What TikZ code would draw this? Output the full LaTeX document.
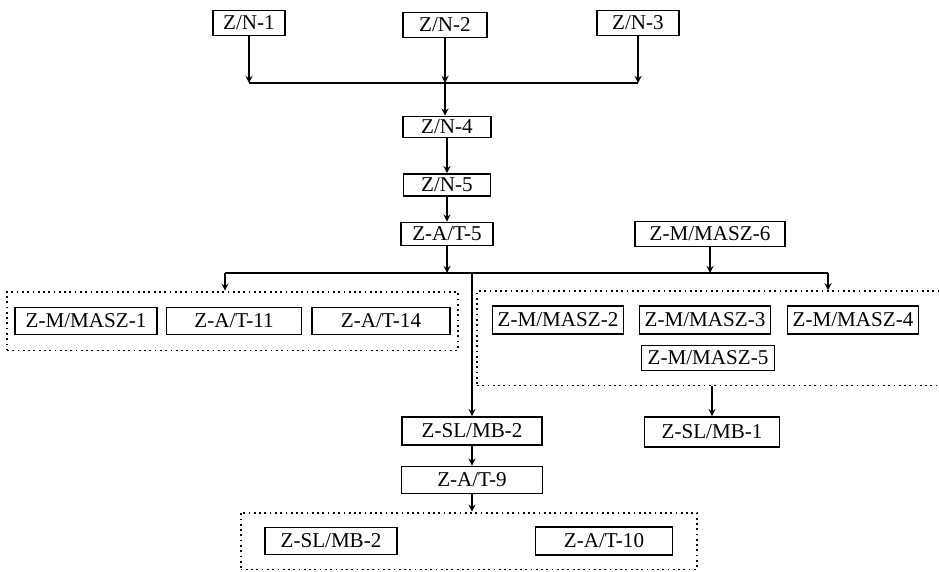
\documentclass[tikz,border=0pt]{standalone}
\usepackage{fontspec}
\setmainfont{Liberation Serif}
\usepackage{tikz}
\usetikzlibrary{positioning,fit}

\tikzset{
    box/.style={draw, line width=1pt, minimum height=0.5cm, inner xsep=3pt,
        inner ysep=1pt, font=\fontsize{12}{13}\selectfont},
    grp/.style={draw, dotted, line width=1pt, inner xsep=0.2cm, inner ysep=0.28cm}
}

\begin{document}
\begin{tikzpicture}[>=stealth, line width=0.8pt]
    \useasboundingbox (0,0) rectangle (18.78,11.42);
    \node[box, minimum width=1.44cm] (N1) at (4.98,10.96) {Z/N-1};
    \node[box, minimum width=1.68cm] (N2) at (8.9,10.92) {Z/N-2};
    \node[box, minimum width=1.64cm] (N3) at (12.76,10.96) {Z/N-3};
    \coordinate (j) at (8.9,9.76);
    \node[box, minimum width=1.76cm, minimum height=0.42cm] (N4) at (8.94,8.88) {Z/N-4};
    \node[box, minimum width=1.74cm, minimum height=0.44cm] (N5)
        [below of=N4, node distance=1.16cm] {Z/N-5};
    \node[box, minimum width=1.84cm, minimum height=0.46cm] (AT5)
        [below of=N5, node distance=0.98cm] {Z-A/T-5};
    \node[box, minimum width=3cm, minimum height=0.5cm] (M6) at (14.2,6.74) {Z-M/MASZ-6};
    \coordinate (sl) at (4.5,5.96);
    \coordinate (sr) at (16.56,5.96);

    \node[box, minimum width=2.84cm, minimum height=0.54cm] (M1) at (1.72,5.0) {Z-M/MASZ-1};
    \node[box, minimum width=2.7cm, minimum height=0.54cm] (AT11)
        [right of=M1, node distance=2.96cm] {Z-A/T-11};
    \node[box, minimum width=2.76cm, minimum height=0.54cm] (AT14)
        [right of=AT11, node distance=2.94cm] {Z-A/T-14};
    \node[grp, fit=(M1)(AT14), inner xsep=0.14cm, inner ysep=0.3cm] (G1) {};

    \node[box, minimum width=2.54cm, minimum height=0.56cm] (M2) at (11.16,5.02) {Z-M/MASZ-2};
    \node[box, minimum width=2.5cm, minimum height=0.56cm] (M3)
        [right of=M2, node distance=2.94cm] {Z-M/MASZ-3};
    \node[box, minimum width=2.54cm, minimum height=0.56cm] (M4)
        [right of=M3, node distance=2.96cm] {Z-M/MASZ-4};
    \node[box, minimum width=2.66cm, minimum height=0.5cm] (M5) at (14.16,4.26) {Z-M/MASZ-5};
    \coordinate (redge) at (19.1,5.0);
    \node[grp, fit=(M2)(M5)(redge), inner xsep=0.29cm, inner ysep=0.28cm] (G2) {};

    \node[box, minimum width=2.8cm, minimum height=0.56cm] (SL2) at (9.44,2.8) {Z-SL/MB-2};
    \node[box, minimum width=2.82cm, minimum height=0.54cm] (AT9)
        [below of=SL2, node distance=0.98cm] {Z-A/T-9};
    \node[box, minimum width=2.7cm, minimum height=0.6cm] (SL1) at (14.24,2.78) {Z-SL/MB-1};

    \node[box, minimum width=2.64cm, minimum height=0.54cm] (SL2b) at (6.62,0.6) {Z-SL/MB-2};
    \node[box, minimum width=2.74cm, minimum height=0.56cm] (AT10)
        [right of=SL2b, node distance=5.46cm] {Z-A/T-10};
    \node[grp, fit=(SL2b)(AT10), inner xsep=0.47cm, inner ysep=0.27cm] (G3) {};

    \draw[->] (N1) -- (N1 |- j);
    \draw[->] (N2) -- (j);
    \draw[->] (N3) -- (N3 |- j);
    \draw (N1 |- j) -- (N3 |- j);
    \draw[->] (j) -- (j |- N4.north);
    \draw[->] (N4) -- (N5);
    \draw[->] (N5) -- (AT5);
    \draw (sl) -- (sr);
    \draw[->] (AT5) -- (AT5 |- sl);
    \draw[->] (M6) -- (M6 |- sl);
    \draw[->] (sl) -- (sl |- G1.north);
    \draw[->] (sr) -- (sr |- G2.north);
    \draw[->] (SL2 |- sl) -- (SL2);
    \draw[->] (SL1 |- G2.south) -- (SL1);
    \draw[->] (SL2) -- (AT9);
    \draw[->] (AT9) -- (AT9 |- G3.north);
\end{tikzpicture}
\end{document}
